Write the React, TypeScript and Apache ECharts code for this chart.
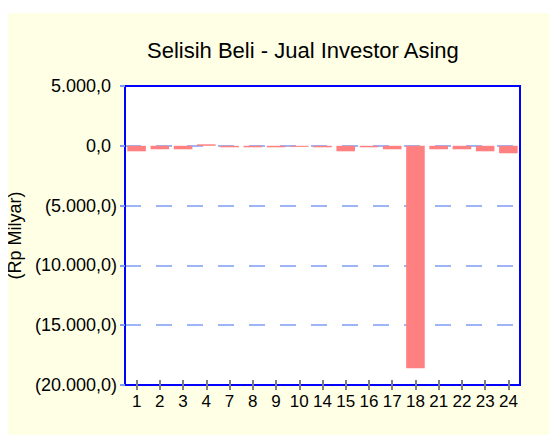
import React, { useEffect, useRef } from "react";
import * as echarts from "echarts";

const titleText = "Selisih Beli - Jual Investor Asing";
const yAxisName = "(Rp Milyar)";
const categories = ["1", "2", "3", "4", "7", "8", "9", "10", "14", "15", "16", "17", "18", "21", "22", "23", "24"];
const netValues = [-460, -290, -290, 125, -125, -125, -125, -90, -125, -460, -125, -290, -18600, -290, -290, -460, -625];
const yMin = -20000;
const yMax = 5000;
const yStep = 5000;

const fontFamily = "'Liberation Sans', Arial, sans-serif";

function fmtNum(v: number): string {
  const a = Math.abs(v);
  const s = a.toFixed(1).split(".");
  const intPart = s[0].replace(/\B(?=(\d{3})+(?!\d))/g, ".");
  const out = intPart + "," + s[1];
  return v < 0 ? "(" + out + ")" : "{pos|" + out + "}";
}

export default function App() {
  const ref = useRef<HTMLDivElement>(null);
  useEffect(() => {
    if (!ref.current) return;
    const chart = echarts.init(ref.current, null, { renderer: "svg" });
    chart.setOption({
      animation: false,
      backgroundColor: "#FFFFE5",
      title: {
        text: titleText,
        left: 139,
        top: 26,
        padding: 0,
        textStyle: { fontFamily, fontSize: 22, fontWeight: "normal", color: "#000" },
      },
      grid: {
        left: 117,
        right: 37,
        top: 73,
        bottom: 50,
        outerBoundsMode: "none",
        containLabel: false,
        show: true,
        backgroundColor: "#ffffff",
        borderColor: "#0000ff",
        borderWidth: 2,
      },
      xAxis: [
        {
          type: "category",
          data: categories,
          position: "bottom",
          axisLine: { show: true, onZero: false, lineStyle: { color: "#0000ff", width: 2 } },
          axisTick: { show: true, alignWithLabel: true, length: 5, lineStyle: { color: "#808080", width: 2 } },
          axisLabel: { color: "#000", fontFamily, fontSize: 17, margin: 8, interval: 0 },
          splitLine: { show: false },
        },
        {
          type: "category",
          data: categories,
          position: "bottom",
          axisLine: { show: false, onZero: false },
          axisTick: { show: true, inside: true, alignWithLabel: true, length: 5, lineStyle: { color: "#808080", width: 2 } },
          axisLabel: { show: false },
          splitLine: { show: false },
        },
      ],
      yAxis: {
        type: "value",
        min: yMin,
        max: yMax,
        interval: yStep,
        name: yAxisName,
        nameLocation: "middle",
        nameGap: 89,
        nameTextStyle: { color: "#000", fontFamily, fontSize: 18 },
        axisLine: { show: true, lineStyle: { color: "#0000ff", width: 2 } },
        axisTick: { show: true, length: 5, lineStyle: { color: "#7d9cf5", width: 2 } },
        axisLabel: {
          color: "#000",
          fontFamily,
          fontSize: 18,
          margin: 8,
          formatter: (v: number) => fmtNum(v),
          rich: { pos: { color: "#000", fontFamily, fontSize: 18, padding: [0, 6, 0, 0] } },
        },
        splitLine: { show: true, showMaxLine: false, showMinLine: false, lineStyle: { color: "#7d9cf5", width: 1.5, type: [16, 15] } },
      },
      series: [
        {
          type: "bar",
          data: netValues,
          xAxisIndex: 0,
          barWidth: "80%",
          itemStyle: { color: "#FF8080" },
        },
      ],
    });
    return () => chart.dispose();
  }, []);
  return (
    <div style={{ paddingTop: 5 }}>
      <div ref={ref} style={{ width: 549, height: 422 }} />
    </div>
  );
}
